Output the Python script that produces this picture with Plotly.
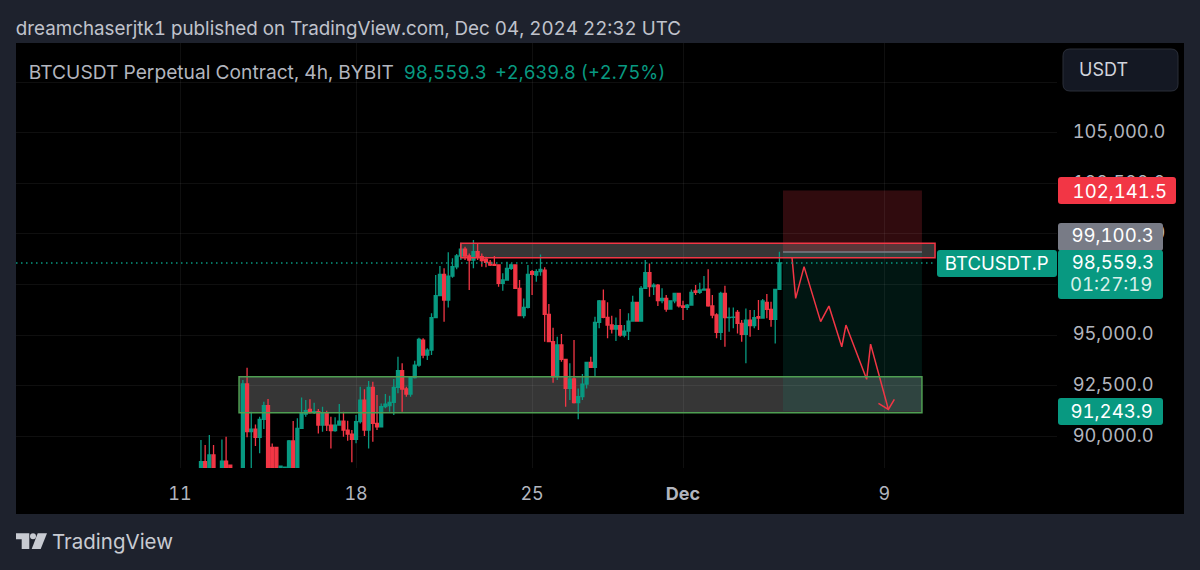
import pandas as pd
import plotly.graph_objects as go

F = 88420
opens = [F,88740,F,89070,None,F,88770,88570,None,None,F,92580,90220,90350,89940,90830,91505,89445,89445,F,F,F,89760,F,90385,91095,91325,91160,91210,90550,
 91160,90550,90270,90550,90745,90300,90105,89840,90715,91785,90300,92410,90630,90465,91455,91505,91670,92410,93235,92330,92080,92890,93515,94750,94010,94255,95855,96945,98000,96730,
 97915,98375,98905,99250,98905,98705,99120,98870,98755,98590,98490,98460,97555,97720,98295,98460,97305,95955,96365,98130,97965,98130,98210,96020,94670,92940,94505,93795,92360,92825,
 91655,91950,92575,93645,93400,95625,96680,95870,95495,95295,95460,95000,95195,95690,96615,95690,97305,98080,97390,97470,96695,96810,96285,96690,97060,96435,96365,96480,97175,97110,
 97225,97270,96435,95990,95130,97060,95855,95870,96120,95575,95030,95740,95460,95905,95840,96615,96270,95775,97255]
highs = [89810,89560,90055,89560,None,89840,89970,88570,None,None,92770,93380,91210,90580,90960,91700,91835,89640,89445,88520,88470,89810,90745,90880,91917,91785,91820,91655,91340,91455,
 91260,90960,90930,91585,91210,90765,90300,91045,92445,92315,92725,92690,92030,91620,92080,92000,92825,93930,93600,92445,92940,93730,94865,94835,94340,96070,97965,98410,98295,99085,
 98790,99005,99565,99365,99035,99695,99530,99035,98870,98705,98905,98490,98050,98625,98540,98495,97720,96810,98460,98210,98245,98985,98345,96530,95360,94915,95050,93795,93600,94750,
 92360,93070,93680,93930,95905,96730,97255,96615,95955,95870,96285,95495,96070,96945,96615,97420,98705,98540,97555,97520,97305,96975,96695,97090,97090,96695,96530,97255,97470,97585,
 97915,98245,96975,96070,97140,97440,96365,96365,96235,95740,96315,96235,96235,96730,96780,97025,96645,97275,99120]
lows = [F,F,F,F,None,F,F,F,None,None,F,89940,F,89510,89150,90350,F,F,F,F,F,F,F,F,90385,90960,91125,91095,90135,90220,
 90255,89395,90220,90550,89970,89775,88705,89645,90630,90005,89395,89725,90300,90465,91375,91210,91045,92115,91210,91950,91950,92855,93435,93845,93765,94010,95825,96945,95660,96365,
 97835,98245,98705,98705,97225,98295,98705,98375,98345,98410,98425,97390,97190,97685,98210,97305,95940,95825,96315,96975,97635,97930,94670,94670,92640,92775,93680,91455,91785,91620,
 90830,91785,92360,93385,92940,95330,95825,94835,95080,94700,94915,94885,94750,95660,95660,95660,97305,96895,96975,96430,96565,96150,96285,96565,96365,95740,96235,96480,96975,97025,
 97225,96400,95825,94835,94750,94420,95165,95330,95080,94670,93600,94915,95330,95245,95825,95825,95410,94585,97225]
closes = [88740,F,89070,F,None,88770,F,F,None,None,92580,90220,90350,89940,90830,91505,F,F,F,88520,88470,89760,F,90385,91125,91260,91160,91210,90550,91160,
 90550,90270,90550,90745,90300,90105,89840,90715,91785,90300,92410,90630,90465,91455,91585,91670,92410,93235,92330,92080,92890,93515,94785,94010,94255,95855,96945,98000,96730,97915,
 98375,98905,99250,98905,98705,99120,98870,98675,98590,98460,98445,97555,97720,98295,98460,97305,95955,96365,98000,98000,98130,98245,96020,94670,92940,94505,93795,92360,92825,91655,
 91950,92575,93645,93400,95625,96680,95870,95495,95295,95460,95000,95195,95690,96615,95690,97305,98080,97390,97470,96695,96810,96285,96690,97060,96435,96365,96480,97110,97110,97225,
 97270,96435,95990,95130,97060,95855,95870,95880,95575,95030,95740,95460,95855,95840,96680,96270,95775,97255,98559.3]

dates = pd.date_range("2024-11-11 20:00", periods=len(opens), freq="4h")

price_ticks = [90000, 92500, 95000, 97500, 100000, 102500, 105000, 107500]
price_labels = ["90,000.0", "92,500.0", "95,000.0", "", "100,000.0", "102,500.0", "105,000.0", ""]
date_ticks = ["2024-11-11", "2024-11-18", "2024-11-25", "2024-12-01", "2024-12-09"]
date_labels = ["11", "18", "25", "<b>Dec</b>", "9"]

LAST = 98559.3
STOP = 102141.5
ENTRY = 99100.3
TARGET = 91243.9

path_dates = ["2024-12-05 08:00", "2024-12-05 11:30", "2024-12-05 19:30", "2024-12-06 11:20", "2024-12-06 19:15",
              "2024-12-07 07:30", "2024-12-07 11:30", "2024-12-08 07:15", "2024-12-08 11:00", "2024-12-09 04:00"]
path_prices = [98840, 96810, 98380, 95660, 96430, 94420, 95490, 92810, 94550, 91320]
head_dates = ["2024-12-08 18:30", "2024-12-09 04:00", "2024-12-09 09:40"]
head_prices = [91620, 91320, 91820]

GREEN = "#089981"
RED = "#f23645"
TXT = "#b2b5be"
FONT = "Inter"

L, R, T, B = 16, 1057, 43, 468
W, H = R - L, B - T
def X(px): return (px - L) / W
def Y(py): return (B - py) / H

def rrect(x0, y0, x1, y1, fill, r=3, line=None):
    d = (f"M{X(x0+r)},{Y(y0)} L{X(x1-r)},{Y(y0)} Q{X(x1)},{Y(y0)} {X(x1)},{Y(y0+r)} "
         f"L{X(x1)},{Y(y1-r)} Q{X(x1)},{Y(y1)} {X(x1-r)},{Y(y1)} L{X(x0+r)},{Y(y1)} "
         f"Q{X(x0)},{Y(y1)} {X(x0)},{Y(y1-r)} L{X(x0)},{Y(y0+r)} Q{X(x0)},{Y(y0)} {X(x0+r)},{Y(y0)} Z")
    return dict(type="path", xref="paper", yref="paper", path=d, fillcolor=fill,
                line=dict(width=1 if line else 0, color=line or fill), layer="above")

def label(px, py, text, size, color=TXT):
    return dict(xref="paper", yref="paper", x=X(px), y=Y(py), text=text, showarrow=False,
                xanchor="left", yanchor="middle", borderpad=0,
                font=dict(family=FONT, size=size, color=color))

def poly(pts, fill):
    d = "M" + " L".join(f"{X(x)},{Y(y)}" for x, y in pts) + " Z"
    return dict(type="path", xref="paper", yref="paper", path=d, fillcolor=fill, line=dict(width=0), layer="above")

shapes = [
    dict(type="rect", xref="paper", yref="paper", x0=X(16), x1=X(1184), y0=Y(43), y1=Y(514),
         fillcolor="#000000", line=dict(width=0), layer="below"),
    dict(type="rect", x0="2024-11-13 08:20", x1="2024-12-10 12:00", y0=91160, y1=92940, xref="x", yref="y",
         fillcolor="rgba(255,255,255,0.21)", line=dict(width=0), layer="below"),
    dict(type="rect", x0="2024-11-22 04:00", x1="2024-12-11 00:30", y0=98820, y1=99530, xref="x", yref="y",
         fillcolor="rgba(255,255,255,0.21)", line=dict(width=0), layer="below"),
    dict(type="rect", x0="2024-12-04 23:25", x1="2024-12-10 12:00", y0=ENTRY, y1=STOP, xref="x", yref="y",
         fillcolor="rgba(242,54,69,0.2)", line=dict(width=0), layer="below"),
    dict(type="rect", x0="2024-12-04 23:25", x1="2024-12-10 12:00", y0=TARGET, y1=ENTRY, xref="x", yref="y",
         fillcolor="rgba(8,153,129,0.14)", line=dict(width=0), layer="below"),
    dict(type="line", x0="2024-12-04 23:25", x1="2024-12-10 12:00", y0=ENTRY, y1=ENTRY, xref="x", yref="y",
         line=dict(color="#787b86", width=1.5), layer="above"),
    dict(type="rect", x0="2024-11-13 08:20", x1="2024-12-10 12:00", y0=91160, y1=92940, xref="x", yref="y",
         line=dict(color="#4f9f52", width=1.5), layer="above"),
    dict(type="rect", x0="2024-11-22 04:00", x1="2024-12-11 00:30", y0=98820, y1=99530, xref="x", yref="y",
         line=dict(color=RED, width=1.5), layer="above"),
    dict(type="line", xref="paper", x0=0, x1=X(935), yref="y", y0=LAST, y1=LAST,
         line=dict(color=GREEN, width=1.5, dash="1.5px,3.5px"), layer="above"),
    rrect(1058, 177, 1176, 204, RED),
    rrect(1058, 223, 1163, 251, "#787b86"),
    rrect(1058, 250, 1163, 299, GREEN),
    rrect(937, 250, 1057, 277, GREEN),
    rrect(1058, 398, 1163, 425, GREEN),
    rrect(1063, 49, 1178, 91, "#141823", r=7, line="#2a2e39"),
    poly([(16, 533.3), (29.3, 533.3), (29.3, 549), (21.7, 549), (21.7, 539.3), (16, 539.3)], "#c8cbd2"),
    dict(type="circle", xref="paper", yref="paper", x0=X(30), x1=X(36), y0=Y(533.3), y1=Y(539.3),
         fillcolor="#c8cbd2", line=dict(width=0), layer="above"),
    poly([(37.7, 533.3), (47, 533.3), (40.7, 549), (31.7, 549)], "#c8cbd2"),
]

annotations = [
    label(19, 29, "dreamchaserjtk1 published on TradingView.com, Dec 04, 2024 22:32 UTC", 18.8, "#c0c3cc"),
    label(27, 72, "BTCUSDT Perpetual Contract, 4h, BYBIT", 19.2),
    label(405, 72, "98,559.3", 18.8, GREEN),
    label(498, 72, "+2,639.8 (+2.75%)", 18.3, GREEN),
    label(1078, 70, "USDT", 18, "#d1d4dc"),
    label(1080, 190.5, "102,141.5", 18.6, "#ffffff"),
    label(1075, 235, "99,100.3", 18.6, "#ffffff"),
    label(1073, 262, "98,559.3", 18.6, "#ffffff"),
    label(1075, 284, "01:27:19", 18.6, "#d8f0ea"),
    label(944, 263, "BTCUSDT.P", 18.6, "#ffffff"),
    label(1073, 411, "91,243.9", 18.6, "#ffffff"),
    label(51, 541, "TradingView", 20.5, "#c8cbd2"),
]

fig = go.Figure()
fig.add_trace(go.Candlestick(
    x=dates, open=opens, high=highs, low=lows, close=closes, whiskerwidth=0,
    increasing=dict(line=dict(color=GREEN, width=1.3), fillcolor=GREEN),
    decreasing=dict(line=dict(color=RED, width=1.3), fillcolor=RED),
    hoverinfo="skip", showlegend=False))
fig.add_trace(go.Scatter(x=path_dates, y=path_prices, mode="lines", line=dict(color=RED, width=1.5),
                         hoverinfo="skip", showlegend=False))
fig.add_trace(go.Scatter(x=head_dates, y=head_prices, mode="lines", line=dict(color=RED, width=1.5),
                         hoverinfo="skip", showlegend=False))

fig.update_layout(
    width=1200, height=570, autosize=False,
    margin=dict(l=L, r=1200 - R, t=T, b=570 - B, pad=0),
    paper_bgcolor="#1e222d", plot_bgcolor="rgba(0,0,0,0)",
    font=dict(family=FONT, color=TXT),
    boxgap=0, showlegend=False,
    shapes=shapes, annotations=annotations,
    xaxis=dict(type="date", range=["2024-11-04 11:30", "2024-12-15 20:53"], rangeslider=dict(visible=False),
               tickmode="array", tickvals=date_ticks, ticktext=date_labels,
               ticks="outside", ticklen=9, tickcolor="rgba(0,0,0,0)",
               tickfont=dict(family=FONT, size=18, color=TXT),
               showgrid=True, gridcolor="rgba(255,255,255,0.06)", gridwidth=1, zeroline=False, showline=False),
    yaxis=dict(side="right", range=[88426, 109434], tickmode="array", tickvals=price_ticks, ticktext=price_labels,
               ticks="outside", ticklen=11, tickcolor="rgba(0,0,0,0)",
               tickfont=dict(family=FONT, size=18.3, color=TXT), ticklabelshift=-1,
               showgrid=True, gridcolor="rgba(255,255,255,0.06)", gridwidth=1, zeroline=False, showline=False),
)
post = ("document.body.style.margin='0';document.body.style.overflow='hidden';"
        "document.body.style.fontFeatureSettings='\"tnum\"';"
        "Plotly.relayout(document.getElementById('{plot_id}'),{});")
fig.write_html("out.html", config=dict(displayModeBar=False), post_script=post)
